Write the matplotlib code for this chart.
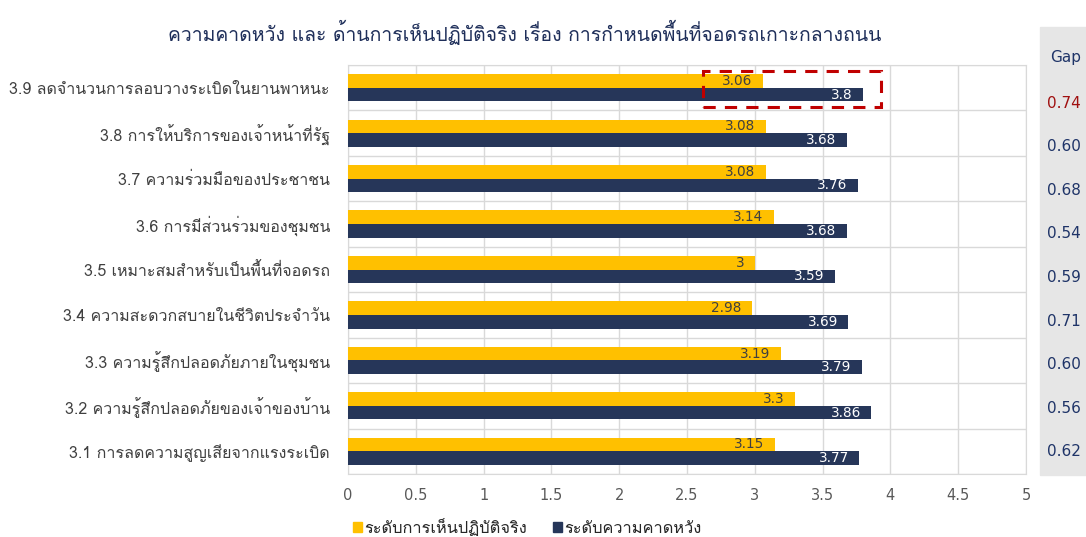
import matplotlib
matplotlib.use("Agg")
import matplotlib.pyplot as plt
from matplotlib import font_manager
from matplotlib.ft2font import FT2Font
from matplotlib.patches import Rectangle
import numpy as np

categories = [
    "3.1 การลดความสูญเสียจากแรงระเบิด",
    "3.2 ความรู้สึกปลอดภัยของเจ้าของบ้าน",
    "3.3 ความรู้สึกปลอดภัยภายในชุมชน",
    "3.4 ความสะดวกสบายในชีวิตประจำวัน",
    "3.5 เหมาะสมสำหรับเป็นพื้นที่จอดรถ",
    "3.6 การมีส่วนร่วมของชุมชน",
    "3.7 ความร่วมมือของประชาชน",
    "3.8 การให้บริการของเจ้าหน้าที่รัฐ",
    "3.9 ลดจำนวนการลอบวางระเบิดในยานพาหนะ",
]
actual = [3.15, 3.3, 3.19, 2.98, 3, 3.14, 3.08, 3.08, 3.06]
expected = [3.77, 3.86, 3.79, 3.69, 3.59, 3.68, 3.76, 3.68, 3.8]
series_names = ["ระดับการเห็นปฏิบัติจริง", "ระดับความคาดหวัง"]
title = "ความคาดหวัง และ ด้านการเห็นปฏิบัติจริง เรื่อง การกำหนดพื้นที่จอดรถเกาะกลางถนน"
xticks = [0, 0.5, 1, 1.5, 2, 2.5, 3, 3.5, 4, 4.5, 5]

YELLOW = "#FFC000"
NAVY = "#263659"
GAP_BLUE = "#1F3468"
GAP_RED = "#A01010"
GRID = "#D9D9D9"


def find_thai_fonts():
    names = []
    for f in font_manager.fontManager.ttflist:
        try:
            cmap = FT2Font(f.fname).get_charmap()
        except Exception:
            continue
        if 0x0E01 in cmap and f.name not in names:
            names.append(f.name)
    return names


thai = find_thai_fonts()
families = thai + ["DejaVu Sans"]
plt.rcParams["font.family"] = families

W, H = 1086, 537
fig = plt.figure(figsize=(W / 100, H / 100), dpi=100)
ax = fig.add_axes([348 / W, (H - 474) / H, (1026 - 348) / W, (474 - 65) / H])

y = np.arange(len(categories))
h = 0.30
b1 = ax.barh(y + h / 2, actual, height=h, color=YELLOW, zorder=3)
b2 = ax.barh(y - h / 2, expected, height=h, color=NAVY, zorder=3)

for rect, v in zip(b1, actual):
    ax.annotate(f"{v:g}", (v, rect.get_y() + rect.get_height() / 2),
                xytext=(-7.5, 0), textcoords="offset points",
                ha="right", va="center", fontsize=9.8, color="#404040",
                family=["DejaVu Sans"], zorder=4)
for rect, v in zip(b2, expected):
    ax.annotate(f"{v:g}", (v, rect.get_y() + rect.get_height() / 2),
                xytext=(-7.5, 0), textcoords="offset points",
                ha="right", va="center", fontsize=9.8, color="white",
                family=["DejaVu Sans"], zorder=4)

ax.set_xlim(0, 5)
ax.set_ylim(-0.5, len(categories) - 0.5)
ax.set_xticks(xticks)
ax.set_xticklabels([f"{t:g}" for t in xticks], fontsize=10.5, color="#595959",
                   family=["DejaVu Sans"])
ax.set_yticks(y)
ax.set_yticklabels(categories, fontsize=11.5, color="#404040")
ax.set_yticks(np.arange(-0.5, len(categories), 1.0), minor=True)
ax.tick_params(axis="both", which="both", length=0)
ax.tick_params(axis="y", pad=13)
ax.tick_params(axis="x", pad=10)
ax.grid(axis="x", which="major", color=GRID, lw=1, zorder=0)
ax.grid(axis="y", which="minor", color=GRID, lw=1, zorder=0)
for side in ["top", "right", "bottom", "left"]:
    ax.spines[side].set_color(GRID)

# highlight box around item 3.9
box = Rectangle((2.62, len(categories) - 1 - 0.42), 1.31, 0.78,
                fill=False, edgecolor="#C00000", lw=2.2, ls=(0, (4, 3)),
                zorder=5, clip_on=False)
ax.add_patch(box)

fig.text(525 / W, 1 - 32 / H, title, ha="center", va="center",
         fontsize=14, color="#1F2F5A")

# Gap column: its own evenly spaced rows, top (3.9) to bottom (3.1)
fig.patches.append(Rectangle((1040 / W, (H - 475) / H), 46 / W, (475 - 27) / H,
                             transform=fig.transFigure, color="#E6E6E6", zorder=-1))
fig.text(1066 / W, 1 - 57 / H, "Gap", ha="center", va="center",
         fontsize=11, color=GAP_BLUE, family=["DejaVu Sans"])
n = len(categories)
gap_top, gap_bottom = 103, 452
for i, (a, e) in enumerate(zip(actual, expected)):
    k = n - 1 - i
    ypx = gap_top + k * (gap_bottom - gap_top) / (n - 1)
    fig.text(1064 / W, 1 - ypx / H, f"{e - a:.2f}", ha="center", va="center",
             fontsize=11, family=["DejaVu Sans"], zorder=6,
             color=GAP_RED if i == n - 1 else GAP_BLUE)

# legend
leg = fig.legend(handles=[Rectangle((0, 0), 1, 1, color=YELLOW),
                          Rectangle((0, 0), 1, 1, color=NAVY)],
                 labels=series_names, loc="center left",
                 bbox_to_anchor=(338 / W, 1 - 528 / H), ncol=2, frameon=False,
                 fontsize=11.8, handlelength=0.55, handleheight=0.6, handletextpad=0.15,
                 columnspacing=1.6, labelcolor="#262626")

fig.savefig("out.png", dpi=100)
